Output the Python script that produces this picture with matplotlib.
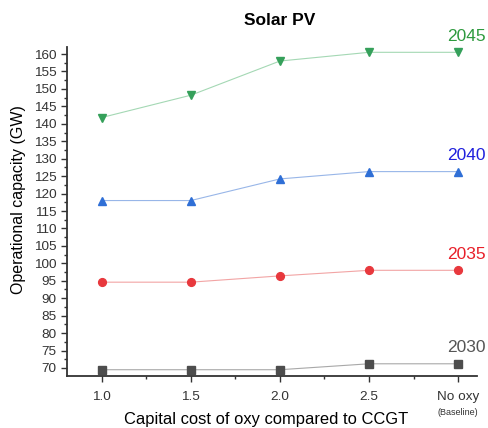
import matplotlib.pyplot as plt
from matplotlib.ticker import MultipleLocator

plt.rcParams['font.family'] = ['Liberation Sans', 'DejaVu Sans']

# --- data ---
cost_labels = ['1.0', '1.5', '2.0', '2.5', 'No oxy']
years = ['2030', '2035', '2040', '2045']
cap_2030 = [69.5, 69.5, 69.5, 71.2, 71.2]
cap_2035 = [94.6, 94.6, 96.4, 98.0, 98.0]
cap_2040 = [118.0, 118.0, 124.2, 126.3, 126.3]
cap_2045 = [141.8, 148.2, 158.0, 160.5, 160.5]

series = [
    (cap_2030, 's', '#4d4d4d', '#a8a8a8', '#555555'),
    (cap_2035, 'o', '#e8383d', '#f2a4a4', '#e8202a'),
    (cap_2040, '^', '#2f6fd6', '#98b6e8', '#2020dd'),
    (cap_2045, 'v', '#35a05a', '#a4d8b4', '#2e9a3e'),
]

fig = plt.figure(figsize=(4.89, 4.28), dpi=100)
ax = fig.add_axes([0.137, 0.1215, 0.838, 0.7685])

x = list(range(len(cost_labels)))
for (vals, mk, mcol, lcol, tcol), yr in zip(series, years):
    ax.plot(x, vals, color=lcol, lw=0.8, zorder=1)
    ax.plot(x, vals, ls='none', marker=mk, ms=5.6, color=mcol, zorder=2)
    ax.annotate(yr, (x[-1], vals[-1]), xytext=(6, 11.5), textcoords='offset points',
                ha='center', va='center', fontsize=12.5, color=tcol, annotation_clip=False)

ax.set_xlim(-0.39, 4.21)
ax.set_ylim(67.7, 162)
ax.set_xticks(x)
ax.set_xticklabels(cost_labels, fontsize=9.7, color='#333333')
ax.xaxis.set_minor_locator(MultipleLocator(0.5))
ax.yaxis.set_major_locator(MultipleLocator(5))
ax.yaxis.set_minor_locator(MultipleLocator(2.5))
ax.tick_params(axis='y', labelsize=9.7, colors='#333333')
ax.tick_params(axis='x', pad=7)
ax.tick_params(which='major', length=4, width=1, color='#333333')
ax.tick_params(which='minor', length=2.5, width=1, color='#333333')
ax.text(4, -0.11, '(Baseline)', transform=ax.get_xaxis_transform(),
        ha='center', va='center', fontsize=6.5, color='#333333')

for s in ['top', 'right']:
    ax.spines[s].set_visible(False)
for s in ['left', 'bottom']:
    ax.spines[s].set_linewidth(1.3)
    ax.spines[s].set_color('#333333')

ax.set_xlabel('Capital cost of oxy compared to CCGT', fontsize=11.9)
ax.set_ylabel('Operational capacity (GW)', fontsize=11.5)
ax.xaxis.set_label_coords(0.485, -0.11)
ax.yaxis.set_label_coords(-0.1, 0.535)
fig.text(0.572, 0.951, 'Solar PV', ha='center', va='center', fontsize=12.5, fontweight='bold')

fig.savefig('out.png', dpi=100)
